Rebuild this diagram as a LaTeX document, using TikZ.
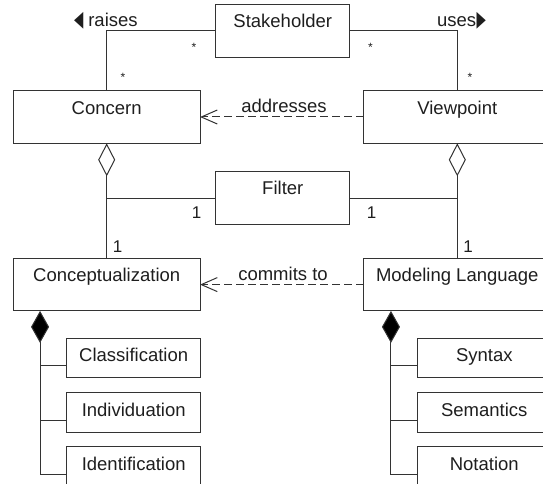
\documentclass[tikz,border=0pt]{standalone}
\usepackage{fontspec}
\setmainfont{Liberation Sans}
\newfontfamily\symfont{DejaVu Sans}
\usetikzlibrary{arrows.meta,calc}
\definecolor{ln}{HTML}{333333}
\definecolor{tx}{HTML}{1E1E1E}
\newcommand{\tri}[1]{{\symfont\fontsize{22}{22}\selectfont\scalebox{0.55}[1]{#1}}}
\begin{document}
\begin{tikzpicture}[x=1pt,y=-1pt,
  every node/.style={inner sep=0pt, outer sep=0pt},
  cls/.style={draw=ln, line width=1pt, rectangle, minimum width=186.7pt, minimum height=52.6pt},
  smallcls/.style={draw=ln, line width=1pt, rectangle, minimum width=134.3pt, minimum height=52.6pt},
  partcls/.style={draw=ln, line width=1pt, rectangle, minimum width=134pt, minimum height=39.4pt},
  nametxt/.style={font=\fontsize{18.5}{22}\selectfont, text=tx, anchor=base},
  edgetxt/.style={font=\fontsize{18.5}{22}\selectfont, text=tx, anchor=base},
  multstar/.style={font=\fontsize{12}{14}\selectfont, text=tx, anchor=base},
  multone/.style={font=\fontsize{17}{20}\selectfont, text=tx, anchor=base},
  assoc/.style={draw=ln, line width=1pt},
  dep/.style={draw=ln, line width=1pt, dash pattern=on 8pt off 4pt, -{Straight Barb[length=16pt,width=14pt,line width=1pt]}},
  aggr/.style={draw=ln, line width=1pt, -{Diamond[open,length=33pt,width=17pt,line width=1pt]}},
  comp/.style={draw=ln, line width=1pt, {Diamond[length=32pt,width=18pt,fill=black]}-},
]
\useasboundingbox (0,0) rectangle (543,484);
\clip (0,0) rectangle (543,484);

% class boxes
\node[smallcls] (stake) at (282.8,31) {};
\node[cls] (concern) at (106.7,117) {};
\node[cls] (viewpoint) at (457.3,117) {};
\node[smallcls] (filter) at (282.8,198) {};
\node[cls] (concept) at (106.7,284.6) {};
\node[cls] (modlang) at (457.3,284.6) {};
\node[partcls] (class) at (133.7,358) {};
\node[partcls] (indiv) at (133.7,412.4) {};
\node[partcls] (ident) at (133.7,466.4) {};
\node[partcls] (syntax) at (484.3,358) {};
\node[partcls] (sem) at (484.3,412.4) {};
\node[partcls] (nota) at (484.3,466.4) {};

% class names
\node[nametxt] (stakeT) at ($(stake.north)+(0,23.2)$) {Stakeholder};
\node[nametxt] (concernT) at ($(concern.north)+(0,23.4)$) {Concern};
\node[nametxt] (viewpointT) at ($(viewpoint.north)+(0,23.4)$) {Viewpoint};
\node[nametxt] (filterT) at ($(filter.north)+(0,22.8)$) {Filter};
\node[nametxt] (conceptT) at ($(concept.north)+(0,23.4)$) {Conceptualization};
\node[nametxt] (modlangT) at ($(modlang.north)+(0,23.4)$) {Modeling Language};
\node[nametxt] (classT) at ($(class.north)+(0,23.4)$) {Classification};
\node[nametxt] (indivT) at ($(indiv.north)+(0,23.4)$) {Individuation};
\node[nametxt] (identT) at ($(ident.north)+(0,23.4)$) {Identification};
\node[nametxt] (syntaxT) at ($(syntax.north)+(0,23.4)$) {Syntax};
\node[nametxt] (semT) at ($(sem.north)+(0,23.4)$) {Semantics};
\node[nametxt] (notaT) at ($(nota.north)+(0,23.4)$) {Notation};

% associations Stakeholder
\draw[assoc] (stake.west) -| (concern.north);
\draw[assoc] (stake.east) -| (viewpoint.north);
\node[edgetxt, anchor=base west] (raisesT) at (74,26.7) {\tri{◀}\hspace{5pt}raises};
\node[edgetxt, anchor=base east] (usesT) at (486,26.7) {uses\hspace{0.5pt}\tri{▶}};
\node[multstar] (m1) at (194,51.5) {*};
\node[multstar] (m2) at (123,81.5) {*};
\node[multstar] (m3) at (370.5,52) {*};
\node[multstar] (m4) at (470,81.5) {*};

% dependencies
\draw[dep] (viewpoint.west) -- (concern.east);
\node[edgetxt] (addrT) at (284,113) {addresses};
\draw[dep] (modlang.west) -- (concept.east);
\node[edgetxt] (commitT) at (283,280) {commits to};

% aggregations
\draw[aggr] (concept.north) -- (concern.south);
\draw[aggr] (modlang.north) -- (viewpoint.south);
\draw[assoc] (filter.west) -- (filter.west -| concern.south);
\draw[assoc] (filter.east) -- (filter.east -| viewpoint.south);
\node[multone] (o1) at (196.7,218.3) {1};
\node[multone] (o2) at (371.7,218.3) {1};
\node[multone] (o3) at (117.7,252) {1};
\node[multone] (o4) at (468,252) {1};

% compositions left
\coordinate (cjL) at ($(concept.south west)+(26.7,0)$);
\coordinate (clsW) at ($(class.south west)+(0,-12)$);
\coordinate (indW) at ($(indiv.south west)+(0,-12)$);
\coordinate (ideW) at ($(ident.south west)+(0,-12)$);
\draw[comp] (cjL) -- (cjL |- ideW) -- (ideW);
\draw[assoc] (cjL |- clsW) -- (clsW);
\draw[assoc] (cjL |- indW) -- (indW);

% compositions right
\coordinate (cjR) at ($(modlang.south west)+(27,0)$);
\coordinate (synW) at ($(syntax.south west)+(0,-12)$);
\coordinate (semW) at ($(sem.south west)+(0,-12)$);
\coordinate (notW) at ($(nota.south west)+(0,-12)$);
\draw[comp] (cjR) -- (cjR |- notW) -- (notW);
\draw[assoc] (cjR |- synW) -- (synW);
\draw[assoc] (cjR |- semW) -- (semW);
\end{tikzpicture}
\end{document}
